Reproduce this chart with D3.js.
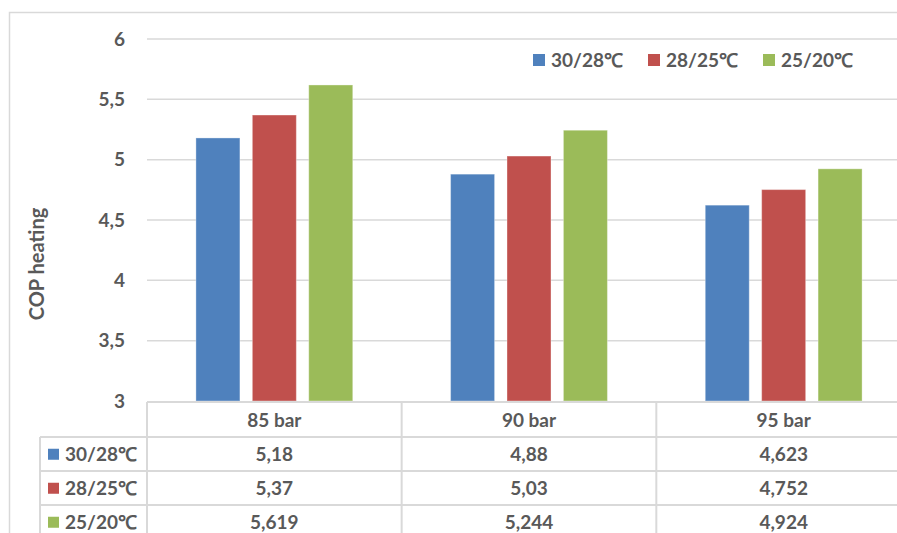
<!DOCTYPE html>
<html>
<head>
<meta charset="utf-8">
<script src="https://cdn.jsdelivr.net/npm/d3@7"></script>
<style>
  html, body { margin: 0; padding: 0; background: #fff; }
  svg { display: block; }
  text { font-family: Lato, "Open Sans", sans-serif; font-weight: bold; fill: #595959; }
</style>
</head>
<body>
<svg id="chart" width="897" height="533"></svg>
<script>
// Pressure levels along the category axis
const categories = ["85 bar", "90 bar", "95 bar"];
// Supply/return temperature series
const seriesNames = ["30/28℃", "28/25℃", "25/20℃"];
const cop_30_28 = [5.18, 4.88, 4.623];
const cop_28_25 = [5.37, 5.03, 4.752];
const cop_25_20 = [5.619, 5.244, 4.924];
const seriesColors = ["#4f81bd", "#c0504d", "#9bbb59"];
const yTicks = [3, 3.5, 4, 4.5, 5, 5.5, 6];
const yTitle = "COP heating";

const seriesValues = [cop_30_28, cop_28_25, cop_25_20];

const svg = d3.select("#chart");
const W = 897, H = 533;
const gridColor = "#d9d9d9";

// decimal comma number format
const locale = d3.formatLocale({ decimal: ",", thousands: ".", grouping: [3], currency: ["", "€"] });
const fmt = locale.format("~g");

const plot = { left: 147, right: 911, top: 39, bottom: 401 };

const x = d3.scaleBand().domain(categories).range([plot.left, plot.right]).paddingInner(0).paddingOuter(0);
const xs = d3.scaleBand().domain(seriesNames).range([0, x.bandwidth()]).paddingInner(0.22).paddingOuter(0.867);
const y = d3.scaleLinear().domain([3, 6]).range([plot.bottom, plot.top]);

// chart area border
svg.append("rect")
  .attr("x", 9.5).attr("y", 12.5)
  .attr("width", W + 20).attr("height", H + 20)
  .attr("fill", "none").attr("stroke", gridColor).attr("stroke-width", 1.5);

// horizontal gridlines
svg.append("g").selectAll("line").data(yTicks.filter(t => t > 3)).join("line")
  .attr("x1", plot.left).attr("x2", W)
  .attr("y1", d => y(d)).attr("y2", d => y(d))
  .attr("stroke", gridColor).attr("stroke-width", 1.5);

// y axis labels
const yAxis = d3.axisLeft(y).tickValues(yTicks).tickFormat(fmt).tickSize(0).tickPadding(22);
const gy = svg.append("g").attr("transform", `translate(${plot.left},0)`).call(yAxis);
gy.select(".domain").remove();
gy.selectAll("text").style("font-family", "Lato, 'Open Sans', sans-serif")
  .style("font-weight", "bold").style("font-size", "19px").attr("fill", "#595959");

// axis title
svg.append("text")
  .attr("transform", `translate(44,264) rotate(-90)`)
  .attr("text-anchor", "middle")
  .style("font-size", "20px")
  .text(yTitle);

// bars
const groups = svg.append("g").selectAll("g").data(categories).join("g")
  .attr("transform", d => `translate(${x(d)},0)`);
groups.selectAll("rect")
  .data((c, i) => seriesNames.map((s, k) => ({ s, k, v: seriesValues[k][i] })))
  .join("rect")
  .attr("x", d => xs(d.s))
  .attr("width", xs.bandwidth())
  .attr("y", d => y(d.v))
  .attr("height", d => y(3) - y(d.v))
  .attr("fill", d => seriesColors[d.k])
  .attr("stroke", "rgba(255,255,255,0.35)").attr("stroke-width", 1);

// legend
const legend = svg.append("g").attr("transform", "translate(533,60)");
const li = legend.selectAll("g").data(seriesNames).join("g")
  .attr("transform", (d, i) => `translate(${i * 115},0)`);
li.append("rect").attr("x", 0).attr("y", -6).attr("width", 12).attr("height", 12)
  .attr("fill", (d, i) => seriesColors[i]);
li.append("text").attr("x", 18).attr("dy", "0.35em").style("font-size", "19px").text(d => d);

// data table
const rowTop = [402, 437, 471, 505];
const rowH = 34.5;
const legendColLeft = 40;
const table = svg.append("g");
// horizontal lines
table.append("line").attr("x1", plot.left).attr("x2", W).attr("y1", rowTop[0]).attr("y2", rowTop[0])
  .attr("stroke", gridColor).attr("stroke-width", 2);
rowTop.slice(1).forEach(r => {
  table.append("line").attr("x1", legendColLeft).attr("x2", W).attr("y1", r).attr("y2", r)
    .attr("stroke", gridColor).attr("stroke-width", 2);
});
// vertical lines
table.append("line").attr("x1", legendColLeft).attr("x2", legendColLeft).attr("y1", rowTop[1]).attr("y2", H)
  .attr("stroke", gridColor).attr("stroke-width", 2);
categories.forEach(c => {
  table.append("line").attr("x1", x(c)).attr("x2", x(c)).attr("y1", rowTop[0]).attr("y2", H)
    .attr("stroke", gridColor).attr("stroke-width", 2);
});
table.append("line").attr("x1", plot.right).attr("x2", plot.right).attr("y1", rowTop[0]).attr("y2", H)
  .attr("stroke", gridColor).attr("stroke-width", 2);

// header row
table.selectAll("text.cat").data(categories).join("text").attr("class", "cat")
  .attr("x", d => x(d) + x.bandwidth() / 2)
  .attr("y", rowTop[0] + rowH / 2 + 1)
  .attr("dy", "0.35em").attr("text-anchor", "middle").style("font-size", "19px")
  .text(d => d);

// series rows
seriesNames.forEach((s, k) => {
  const cy = rowTop[k + 1] + rowH / 2;
  table.append("rect").attr("x", 48).attr("y", cy - 5.5).attr("width", 11).attr("height", 11)
    .attr("fill", seriesColors[k]);
  table.append("text").attr("x", 65).attr("y", cy).attr("dy", "0.35em").style("font-size", "19px").text(s);
  categories.forEach((c, i) => {
    table.append("text")
      .attr("x", x(c) + x.bandwidth() / 2).attr("y", cy)
      .attr("dy", "0.35em").attr("text-anchor", "middle").style("font-size", "19px")
      .text(fmt(seriesValues[k][i]));
  });
});
</script>
</body>
</html>
